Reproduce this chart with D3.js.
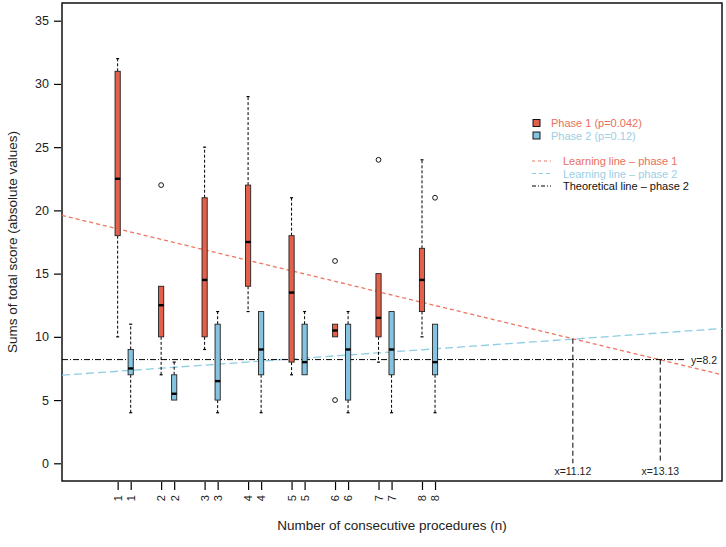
<!DOCTYPE html>
<html>
<head>
<meta charset="utf-8">
<script src="https://cdn.jsdelivr.net/npm/d3@7"></script>
<style>
  body { margin: 0; background: #fff; }
  text { font-family: "Liberation Sans", Arial, sans-serif; }
</style>
</head>
<body>
<div id="chart"></div>
<script>
// groups (number of consecutive procedures)
var groups = [1, 2, 3, 4, 5, 6, 7, 8];
// box stats: [low whisker, q1, median, q3, high whisker]
var phase1 = [
  [10, 18, 22.5, 31, 32],
  [7, 10, 12.5, 14, 14],
  [9, 10, 14.5, 21, 25],
  [12, 14, 17.5, 22, 29],
  [7, 8, 13.5, 18, 21],
  [10, 10, 10.5, 11, 11],
  [8, 10, 11.5, 15, 15],
  [10, 12, 14.5, 17, 24]
];
var phase2 = [
  [4, 7, 7.5, 9, 11],
  [5, 5, 5.5, 7, 8],
  [4, 5, 6.5, 11, 12],
  [4, 7, 9, 12, 12],
  [7, 7, 8, 11, 12],
  [4, 5, 9, 11, 12],
  [4, 7, 9, 12, 12],
  [4, 7, 8, 11, 11]
];
var outliers1 = [[], [22], [], [], [], [16, 5], [24], []];
var outliers2 = [[], [], [], [], [], [], [], [21]];
var yTicks = [0, 5, 10, 15, 20, 25, 30, 35];

// learning lines: y = a + b*x
var learn1 = { a: 19.08, b: -0.83 };
var learn2 = { a: 7.12, b: 0.243 };
var theoryY = 8.2;
var theoryEnd = 13.7;
var cross = [11.12, 13.13];

var W = 726, H = 547;
var pl = 62, pr = 722, pt = 3, pb = 481;

var red = "#E5604A", blue = "#84C4E0";
var redLine = "#EE7560", blueLine = "#8ECDE3";

var svg = d3.select("#chart").append("svg")
  .attr("width", W).attr("height", H);

var x = d3.scaleLinear().domain([-0.63, 14.55]).range([pl, pr]);
var y = d3.scaleLinear().domain([-1.4, 36.4]).range([pb, pt]);

var pos1 = d => d - 0.35, pos2 = d => d - 0.05;

// frame
svg.append("rect")
  .attr("x", pl).attr("y", pt)
  .attr("width", pr - pl).attr("height", pb - pt)
  .attr("fill", "none").attr("stroke", "#000").attr("stroke-width", 1.4);

// y axis
var yAxis = svg.append("g")
  .attr("transform", "translate(" + (pl - 1) + ",0)")
  .call(d3.axisLeft(y).tickValues(yTicks).tickSize(7).tickPadding(5));
yAxis.select(".domain").remove();
yAxis.selectAll("line").attr("stroke", "#000").attr("stroke-width", 1.2);
yAxis.selectAll("text").attr("font-size", 12.5).attr("fill", "#222")
  .style("font-family", "Liberation Sans, Arial, sans-serif");

// x axis ticks
var xPos = [], xLab = [];
groups.forEach(g => { xPos.push(pos1(g)); xLab.push(g); xPos.push(pos2(g)); xLab.push(g); });
var xAxis = svg.append("g")
  .attr("transform", "translate(0," + (pb + 1) + ")")
  .call(d3.axisBottom(x).tickValues(xPos).tickSize(8).tickPadding(4)
    .tickFormat((d, i) => xLab[i]));
xAxis.select(".domain").remove();
xAxis.selectAll("line").attr("stroke", "#000").attr("stroke-width", 1.2);
xAxis.selectAll("text")
  .attr("font-size", 11).attr("fill", "#222")
  .attr("transform", "rotate(-90)")
  .attr("text-anchor", "end")
  .attr("x", -13).attr("y", 0).attr("dy", "0.35em")
  .style("font-family", "Liberation Sans, Arial, sans-serif");

// titles
svg.append("text")
  .attr("transform", "translate(17," + ((pt + pb) / 2) + ") rotate(-90)")
  .attr("text-anchor", "middle").attr("font-size", 13.5).attr("fill", "#222")
  .text("Sums of total score (absolute values)");
svg.append("text")
  .attr("x", (pl + pr) / 2).attr("y", 530)
  .attr("text-anchor", "middle").attr("font-size", 13.5).attr("fill", "#222")
  .text("Number of consecutive procedures (n)");

// learning / theoretical lines
var x0 = x.domain()[0], x1 = x.domain()[1];
svg.append("line")
  .attr("x1", x(x0)).attr("y1", y(learn1.a + learn1.b * x0))
  .attr("x2", x(x1)).attr("y2", y(learn1.a + learn1.b * x1))
  .attr("stroke", redLine).attr("stroke-width", 1.3).attr("stroke-dasharray", "4,3");
svg.append("line")
  .attr("x1", x(x0)).attr("y1", y(learn2.a + learn2.b * x0))
  .attr("x2", x(x1)).attr("y2", y(learn2.a + learn2.b * x1))
  .attr("stroke", blueLine).attr("stroke-width", 1.3).attr("stroke-dasharray", "8,4");
svg.append("line")
  .attr("x1", x(x0)).attr("y1", y(theoryY))
  .attr("x2", x(theoryEnd)).attr("y2", y(theoryY))
  .attr("stroke", "#000").attr("stroke-width", 1).attr("stroke-dasharray", "6,2,1,2");
svg.append("text")
  .attr("x", x(theoryEnd) + 6).attr("y", y(theoryY) + 4)
  .attr("font-size", 10.5).attr("fill", "#222").text("y=" + theoryY);

// crossing verticals
var crossY = [learn1.a + learn1.b * cross[0], theoryY];
cross.forEach((c, i) => {
  svg.append("line")
    .attr("x1", x(c)).attr("x2", x(c))
    .attr("y1", y(crossY[i])).attr("y2", y(0))
    .attr("stroke", "#000").attr("stroke-width", 1).attr("stroke-dasharray", "5,3");
  svg.append("text")
    .attr("x", x(c)).attr("y", y(-0.95))
    .attr("text-anchor", "middle").attr("font-size", 10.5).attr("fill", "#222")
    .text("x=" + c);
});

// boxplots
function drawBoxes(stats, outs, posFn, fill) {
  var g = svg.append("g");
  var hw = 2.6, cap = 1.5;
  stats.forEach((s, i) => {
    var cx = x(posFn(groups[i]));
    if (s[4] > s[3]) {
      g.append("line").attr("x1", cx).attr("x2", cx).attr("y1", y(s[3])).attr("y2", y(s[4]))
        .attr("stroke", "#000").attr("stroke-dasharray", "3,2");
      g.append("line").attr("x1", cx - cap).attr("x2", cx + cap).attr("y1", y(s[4])).attr("y2", y(s[4]))
        .attr("stroke", "#000").attr("stroke-width", 1.2);
    }
    if (s[0] < s[1]) {
      g.append("line").attr("x1", cx).attr("x2", cx).attr("y1", y(s[1])).attr("y2", y(s[0]))
        .attr("stroke", "#000").attr("stroke-dasharray", "3,2");
      g.append("line").attr("x1", cx - cap).attr("x2", cx + cap).attr("y1", y(s[0])).attr("y2", y(s[0]))
        .attr("stroke", "#000").attr("stroke-width", 1.2);
    }
    g.append("rect")
      .attr("x", cx - hw).attr("width", hw * 2)
      .attr("y", y(s[3])).attr("height", y(s[1]) - y(s[3]))
      .attr("fill", fill).attr("stroke", "#222").attr("stroke-width", 0.9);
    g.append("line").attr("x1", cx - hw).attr("x2", cx + hw)
      .attr("y1", y(s[2])).attr("y2", y(s[2]))
      .attr("stroke", "#000").attr("stroke-width", 2.4);
    outs[i].forEach(o => {
      g.append("circle").attr("cx", cx).attr("cy", y(o)).attr("r", 2.4)
        .attr("fill", "none").attr("stroke", "#000").attr("stroke-width", 0.9);
    });
  });
}
drawBoxes(phase1, outliers1, pos1, red);
drawBoxes(phase2, outliers2, pos2, blue);

// legend
var lg = svg.append("g").attr("transform", "translate(533,0)");
var boxLeg = [["Phase 1 (p=0.042)", red, "#E8705C"], ["Phase 2 (p=0.12)", blue, "#9CCFE5"]];
boxLeg.forEach((d, i) => {
  var yy = 123 + i * 12.5;
  lg.append("rect").attr("x", 0).attr("y", yy - 3.5).attr("width", 7).attr("height", 7)
    .attr("fill", d[1]).attr("stroke", "#000").attr("stroke-width", 0.9);
  lg.append("text").attr("x", 18).attr("y", yy + 4).attr("font-size", 11).attr("fill", d[2]).text(d[0]);
});
var lineLeg = [
  ["Learning line \u2013 phase 1", redLine, "3,3", "#E8705C"],
  ["Learning line \u2013 phase 2", blueLine, "4,3", "#9CCFE5"],
  ["Theoretical line \u2013 phase 2", "#000", "4,2,1,2", "#111"]
];
lineLeg.forEach((d, i) => {
  var yy = 161 + i * 12.5;
  lg.append("line").attr("x1", -1).attr("x2", 18).attr("y1", yy).attr("y2", yy)
    .attr("stroke", d[1]).attr("stroke-width", 1).attr("stroke-dasharray", d[2]);
  lg.append("text").attr("x", 30).attr("y", yy + 4).attr("font-size", 11).attr("fill", d[3]).text(d[0]);
});
</script>
</body>
</html>
